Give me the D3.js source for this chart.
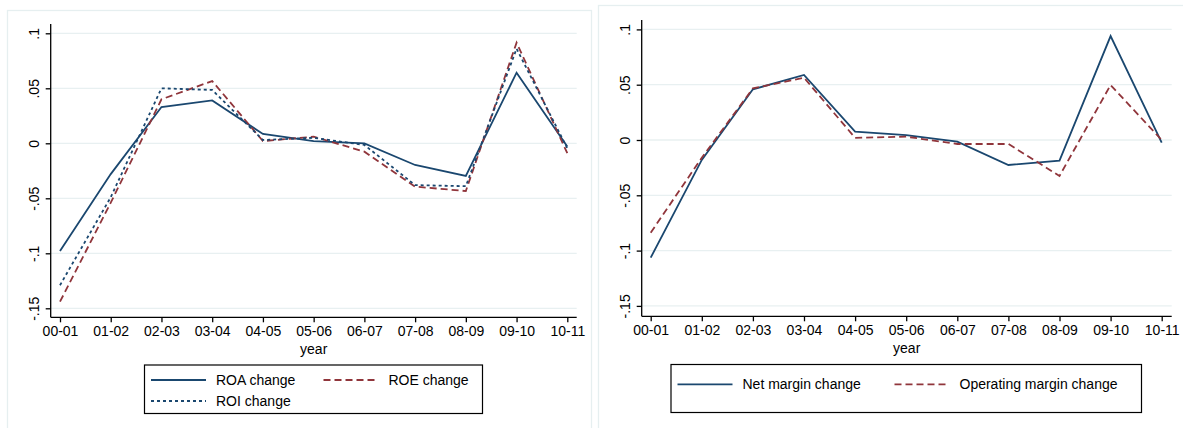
<!DOCTYPE html>
<head>
<meta charset="utf-8">
<style>
body { margin: 0; background: #fff; }
svg text { font-family: "Liberation Sans", Arial, sans-serif; fill: #000; }
.grid line { stroke: #e8f0f1; stroke-width: 1.3; }
.axis path, .axis line { stroke: #000; stroke-width: 1.3; }
</style>
</head>
<body>
<svg width="1183" height="428"></svg>
<script src="https://cdn.jsdelivr.net/npm/d3@7"></script>
<script>
/* global d3 */

const years = ['00-01', '01-02', '02-03', '03-04', '04-05', '05-06', '06-07', '07-08', '08-09', '09-10', '10-11']
const yTicks = [-0.15, -0.1, -0.05, 0, 0.05, 0.1]
const yTickLabels = ['-.15', '-.1', '-.05', '0', '.05', '.1']

const roa = [-0.098, -0.028, 0.033, 0.039, 0.0085, 0.002, 0.0, -0.0197, -0.0297, 0.0642, -0.003]
const roe = [-0.144, -0.054, 0.040, 0.0566, 0.002, 0.006, -0.0076, -0.0394, -0.0434, 0.0915, -0.009]
const roi = [-0.129, -0.049, 0.050, 0.0485, 0.003, 0.005, -0.0015, -0.038, -0.039, 0.086, -0.0045]

const netMargin = [-0.1064, -0.018, 0.0458, 0.0588, 0.0075, 0.0045, -0.0015, -0.0226, -0.0187, 0.094, -0.0024]
const opMargin = [-0.0838, -0.016, 0.0467, 0.0563, 0.002, 0.003, -0.0036, -0.0036, -0.0325, 0.0497, 0.0]

const navy = '#1a476f'
const maroon = '#90353b'

const svg = d3.select('svg')

// panel frames
svg.append('rect').attr('x', 7.5).attr('y', 10.5).attr('width', 584).attr('height', 430)
  .attr('fill', '#fff').attr('stroke', '#e6eff0').attr('stroke-width', 1.3)
svg.append('rect').attr('x', 598.5).attr('y', 5.5).attr('width', 590).attr('height', 430)
  .attr('fill', '#fff').attr('stroke', '#e6eff0').attr('stroke-width', 1.3)

function drawPanel(opts) {
  const g = svg.append('g')
  const x = d3.scalePoint().domain(years).range([opts.x0, opts.x1])
  const y = d3.scaleLinear().domain([0, 0.1]).range([opts.yZero, opts.yTop])

  // gridlines
  g.append('g').attr('class', 'grid')
    .selectAll('line').data(yTicks).enter().append('line')
      .attr('x1', opts.axisX).attr('x2', opts.axisRight)
      .attr('y1', d => y(d)).attr('y2', d => y(d))

  // y axis
  const yAxis = g.append('g').attr('class', 'axis')
    .attr('transform', `translate(${opts.axisX},0)`)
    .call(d3.axisLeft(y).tickValues(yTicks).tickSize(5).tickSizeOuter(0)
      .tickFormat((d, i) => yTickLabels[i]))
  yAxis.select('.domain').attr('d', `M0,${opts.axisTop}V${opts.axisBottom}`)
  yAxis.selectAll('text')
    .attr('x', null).attr('dy', null)
    .attr('transform', 'rotate(-90) translate(0,-12)')
    .attr('text-anchor', 'middle')
    .style('font-size', '14px')

  // x axis
  const xAxis = g.append('g').attr('class', 'axis')
    .attr('transform', `translate(0,${opts.axisBottom})`)
    .call(d3.axisBottom(x).tickSize(5).tickSizeOuter(0))
  xAxis.select('.domain').attr('d', `M${opts.axisX},0H${opts.axisRight}`)
  xAxis.selectAll('text').attr('y', 9).style('font-size', '14px')

  g.append('text')
    .attr('x', (opts.axisX + opts.axisRight) / 2)
    .attr('y', opts.axisBottom + 37)
    .attr('text-anchor', 'middle')
    .style('font-size', '14px')
    .text('year')

  const line = d3.line().x((d, i) => x(years[i])).y(d => y(d))

  opts.series.forEach(s => {
    g.append('path')
      .datum(s.values)
      .attr('d', line)
      .attr('fill', 'none')
      .attr('stroke', s.color)
      .attr('stroke-width', 1.8)
      .attr('stroke-dasharray', s.dash)
  })

  // legend
  const lg = g.append('g')
  lg.append('rect')
    .attr('x', opts.legend.x).attr('y', opts.legend.y)
    .attr('width', opts.legend.w).attr('height', opts.legend.h)
    .attr('fill', '#fff').attr('stroke', '#000').attr('stroke-width', 1.2)
  opts.series.forEach(s => {
    lg.append('line')
      .attr('x1', s.lx).attr('x2', s.lx + 55)
      .attr('y1', s.ly).attr('y2', s.ly)
      .attr('stroke', s.color).attr('stroke-width', 1.8)
      .attr('stroke-dasharray', s.dash)
    lg.append('text')
      .attr('x', s.lx + 65).attr('y', s.ly + 5)
      .style('font-size', '14px')
      .text(s.name)
  })
}

drawPanel({
  x0: 60, x1: 567.3, yZero: 143.3, yTop: 33.3,
  axisX: 50.7, axisRight: 576.7, axisTop: 24, axisBottom: 317.3,
  legend: {x: 144.5, y: 365, w: 338, h: 48.5},
  series: [
    {name: 'ROA change', values: roa, color: navy, dash: null, lx: 151, ly: 380},
    {name: 'ROE change', values: roe, color: maroon, dash: '7,4', lx: 323.5, ly: 380},
    {name: 'ROI change', values: roi, color: navy, dash: '3,3', lx: 151, ly: 401}
  ]
})

drawPanel({
  x0: 650.7, x1: 1161.7, yZero: 140, yTop: 29.4,
  axisX: 641.7, axisRight: 1171.7, axisTop: 20, axisBottom: 316.3,
  legend: {x: 671, y: 364.5, w: 470.5, h: 48},
  series: [
    {name: 'Net margin change', values: netMargin, color: navy, dash: null, lx: 677.5, ly: 384.3},
    {name: 'Operating margin change', values: opMargin, color: maroon, dash: '7,4', lx: 894.5, ly: 384.3}
  ]
})
</script>
</body>
